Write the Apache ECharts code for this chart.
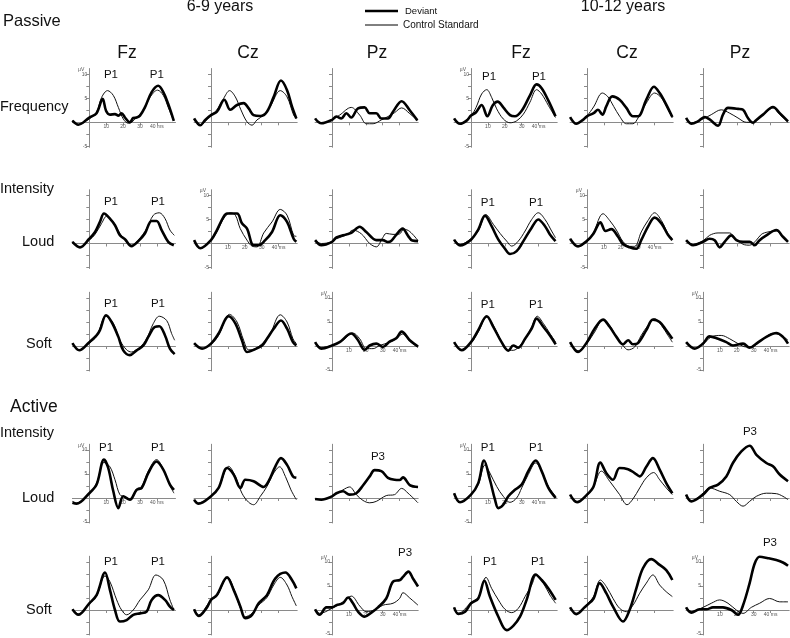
<!DOCTYPE html>
<html><head><meta charset="utf-8">
<script src="https://cdn.jsdelivr.net/npm/echarts@6/dist/echarts.min.js"></script>
<style>html,body{margin:0;padding:0;background:#fff}#c{width:790px;height:638px}</style>
</head><body><div id="c"></div><script>
// ---------- data: [time ms, amplitude µV] ----------
// Passive – Frequency
const pFreqFz69Dev=[[-100,0.35],[-65,-0.5],[0,1.0],[43,1.9],[79,4.9],[99,2.4],[122,1.6],[152,1.7],[172,1.4],[191,1.9],[211,1.0],[240,0],[260,0.9],[280,1.0],[300,1.4],[329,3.1],[369,6.3],[408,7.6],[438,6.3],[467,3.8],[500,0.3]];
const pFreqFz69Ctl=[[-100,0.35],[-65,-0.4],[0,0.7],[43,2.1],[73,5.2],[108,6.6],[142,5.6],[172,3.1],[201,0.7],[231,-0.2],[250,0],[280,1.0],[320,2.4],[359,5.2],[404,6.7],[438,5.6],[467,3.1],[500,0.3]];
const pFreqCz69Dev=[[-100,0.8],[-63,-0.6],[-34,0.5],[0,1.5],[35,2.2],[79,4.7],[114,2.6],[154,3.6],[193,4.0],[223,2.9],[252,1.5],[292,1.3],[331,2.2],[371,5.3],[414,8.7],[450,6.7],[479,3.3],[505,0.8]];
const pFreqCz69Ctl=[[-100,0.8],[-63,-0.5],[0,1.5],[35,2.6],[75,5.0],[110,6.6],[144,5.3],[177,2.6],[213,0.1],[243,-0.6],[272,0.5],[312,1.5],[351,3.3],[410,6.6],[450,5.3],[489,1.5],[505,0.8]];
const pFreqPz69Dev=[[-100,0.8],[-63,-0.2],[0,0.5],[26,1.2],[55,0.8],[85,1.9],[114,1.0],[154,2.9],[193,3.1],[223,1.9],[262,1.9],[292,0.8],[331,0.8],[361,2.2],[412,4.4],[460,2.5],[505,0.4]];
const pFreqPz69Ctl=[[-100,0.8],[-63,-0.1],[0,0.5],[45,1.5],[114,3.1],[164,1.5],[203,-0.3],[243,-0.3],[292,0.5],[331,1.2],[370,2.0],[412,3.0],[460,1.8],[505,0.4]];
const pFreqFz1012Dev=[[-100,0.8],[-65,-0.3],[-26,0.35],[0,1.4],[30,2.1],[63,3.6],[97,1.25],[128,3.5],[158,4.3],[191,3.1],[231,1.5],[260,1.25],[300,2.4],[349,5.6],[388,7.9],[418,7.1],[458,4.5],[500,1.25]];
const pFreqFz1012Ctl=[[-100,0.8],[-65,-0.3],[0,1.4],[30,3.1],[63,5.9],[93,6.8],[122,5.2],[152,2.8],[191,0.7],[231,-0.1],[270,0.3],[310,1.7],[349,4.2],[388,6.8],[418,5.9],[458,3.5],[500,1.0]];
const pFreqCz1012Dev=[[-100,1.1],[-63,-0.3],[-24,0.5],[0,1.25],[39,1.9],[65,2.6],[91,1.6],[114,3.3],[150,5.4],[193,4.7],[233,3.0],[272,1.25],[302,1.25],[351,4.7],[396,7.4],[430,6.1],[469,3.7],[505,1.1]];
const pFreqCz1012Ctl=[[-100,1.1],[-63,-0.3],[0,1.4],[39,3.2],[91,6.1],[124,5.3],[158,3.3],[193,1.25],[233,-0.3],[272,-0.3],[302,0.9],[351,4.0],[400,6.1],[440,5.1],[479,2.6],[505,0.9]];
const pFreqPz1012Dev=[[-100,0.9],[-69,-0.3],[-30,0.2],[10,1.1],[39,0.6],[89,-0.7],[118,1.6],[148,3.0],[207,2.8],[237,2.6],[266,0.9],[296,-0.1],[316,0.5],[355,1.6],[414,3.2],[454,1.9],[503,0.2]];
const pFreqPz1012Ctl=[[-100,0.9],[-69,-0.1],[0,0.7],[49,1.6],[108,2.6],[158,1.9],[207,0.9],[256,0],[296,0],[335,0.9],[375,2.1],[414,3.0],[454,1.6],[503,0]];
// Passive – Intensity Loud
const pLoudFz69Dev=[[-100,0.35],[-55,-0.8],[0,1.0],[34,2.4],[63,4.5],[87,6.25],[122,5.2],[152,3.8],[181,1.7],[211,0.9],[250,-0.55],[290,0.5],[329,2.1],[369,4.7],[398,4.7],[428,2.8],[467,0.35],[500,-0.35]];
const pLoudFz69Ctl=[[-100,0.35],[-55,-0.7],[0,0.7],[34,1.9],[73,4.2],[103,5.7],[142,4.5],[181,2.1],[221,0.35],[250,-0.35],[290,0.7],[339,3.1],[379,5.9],[414,6.4],[448,5.2],[477,2.8],[503,1.7]];
const pLoudCz69Dev=[[-100,0.7],[-63,-1.0],[0,0.7],[35,2.8],[75,5.6],[95,6.25],[154,6.25],[183,4.2],[213,3.1],[252,-0.35],[282,-0.35],[321,0.7],[361,2.4],[410,5.9],[450,4.5],[489,1.0],[505,0.35]];
const pLoudCz69Ctl=[[-100,0.7],[-63,-1.0],[0,0.7],[35,2.4],[75,5.2],[114,6.4],[144,5.9],[173,3.1],[213,0.7],[243,-0.55],[272,-0.7],[312,2.2],[361,4.5],[410,7.1],[450,5.9],[489,1.7],[505,1.5]];
const pLoudPz69Dev=[[-100,0.7],[-63,-0.35],[0,0.35],[26,1.25],[85,1.9],[114,2.2],[164,3.5],[203,2.4],[262,0.7],[301,0.7],[330,0.3],[350,0.5],[380,1.8],[418,3.1],[450,1.6],[475,0.6],[509,0.5]];
const pLoudPz69Ctl=[[-100,0.7],[-63,0],[0,0.35],[26,1.0],[85,1.75],[124,2.8],[174,2.0],[223,0],[262,-0.7],[300,1.2],[321,2.1],[361,1.9],[400,2.0],[425,3.0],[460,2.5],[509,0.6]];
const pLoudFz1012Dev=[[-100,0.8],[-65,-0.4],[0,0.8],[43,2.9],[83,5.8],[122,3.6],[162,0.8],[201,-1.1],[231,-2.2],[270,-1.6],[310,0.5],[359,3.3],[398,5.0],[438,3.6],[467,1.9],[500,0.5]];
const pLoudFz1012Ctl=[[-100,0.8],[-65,-0.2],[0,1.0],[43,2.6],[89,6.0],[132,4.0],[172,2.1],[211,0.5],[241,-0.55],[280,0.5],[320,2.6],[359,5.0],[398,6.4],[438,5.0],[477,2.6],[500,1.2]];
const pLoudCz1012Dev=[[-100,1.0],[-53,-0.6],[0,0.55],[39,2.1],[79,4.4],[110,2.6],[144,3.0],[183,1.45],[213,-0.1],[252,-0.8],[292,-1.1],[321,0.7],[361,3.5],[400,5.4],[440,4.2],[479,1.8],[505,0.7]];
const pLoudCz1012Ctl=[[-100,1.0],[-53,-0.6],[0,0.4],[39,2.4],[95,6.2],[134,4.8],[174,2.8],[213,0.4],[252,-0.6],[282,-0.6],[321,2.4],[361,4.8],[400,6.4],[440,4.8],[479,2.1],[505,1.1]];
const pLoudPz1012Dev=[[-100,0.7],[-59,-0.35],[0,0.35],[39,1.0],[69,0.7],[99,-0.8],[128,0.35],[168,1.7],[197,0.7],[237,0.35],[276,0.35],[306,-0.35],[335,0.7],[375,1.7],[434,2.8],[473,1.4],[503,0.35]];
const pLoudPz1012Ctl=[[-100,0.7],[-59,-0.2],[0,0.55],[39,1.7],[89,2.2],[158,2.2],[187,1.25],[237,-0.15],[276,-0.35],[316,0.7],[345,1.9],[384,2.4],[434,2.6],[473,1.25],[503,0.35]];
// Passive – Intensity Soft
const pSoftFz69Dev=[[-100,0.6],[-59,-0.9],[0,0.8],[43,2.2],[63,3.3],[99,6.4],[132,5.0],[172,1.9],[201,-0.9],[240,-1.9],[280,-0.9],[320,0.1],[349,1.9],[389,4.0],[414,4.1],[448,2.2],[477,-0.55],[505,-1.7]];
const pSoftFz69Ctl=[[-100,0.6],[-59,-0.9],[0,0.6],[43,2.0],[99,6.2],[142,4.7],[181,1.2],[221,-0.8],[250,-1.25],[300,-0.2],[339,1.5],[379,4.7],[414,6.2],[458,5.3],[487,2.6],[505,1.2]];
const pSoftCz69Dev=[[-100,0.6],[-53,-0.55],[0,0.5],[45,2.6],[105,6.2],[144,4.7],[183,1.2],[213,-1.25],[252,-0.8],[302,0.1],[331,1.5],[371,3.6],[414,5.3],[450,3.6],[485,0.8],[505,0.1]];
const pSoftCz69Ctl=[[-100,0.6],[-53,-0.5],[0,0.35],[45,2.2],[110,6.6],[154,5.0],[193,1.2],[223,-0.8],[262,-0.55],[312,0.8],[351,2.6],[410,6.5],[450,5.0],[485,1.5],[505,0.5]];
const pSoftPz69Dev=[[-100,0.8],[-63,-0.55],[0,0.1],[45,0.8],[114,2.6],[154,1.2],[193,-0.8],[223,0.1],[262,0.5],[301,-0.2],[341,0.9],[380,1.6],[412,3.0],[460,1.2],[509,-0.1]];
const pSoftPz69Ctl=[[-100,0.8],[-63,-0.3],[0,0.1],[65,1.2],[124,2.7],[164,1.5],[203,-0.55],[243,-0.55],[282,0.1],[341,0.8],[380,1.5],[418,2.5],[460,1.0],[509,-0.3]];
const pSoftFz1012Dev=[[-100,0.8],[-55,-0.9],[0,0.8],[43,3.3],[93,6.2],[132,4.0],[181,0.8],[221,-1.0],[250,0.1],[280,-0.35],[320,1.5],[359,3.6],[388,5.7],[428,4.0],[467,2.2],[501,0.35]];
const pSoftFz1012Ctl=[[-100,0.8],[-55,-0.7],[0,0.6],[43,2.9],[93,6.0],[132,4.3],[172,1.5],[211,-0.8],[250,-0.9],[290,0.1],[329,2.0],[359,4.0],[392,6.2],[428,4.7],[467,2.6],[501,0.8]];
const pSoftCz1012Dev=[[-100,0.8],[-53,-1.25],[0,0.8],[45,3.6],[95,5.5],[134,4.0],[174,1.9],[213,0.35],[243,1.2],[272,0.35],[302,0.6],[351,3.3],[390,5.5],[430,5.0],[469,3.3],[505,1.5]];
const pSoftCz1012Ctl=[[-100,0.8],[-53,-1.0],[0,0.6],[45,2.9],[95,5.5],[134,4.3],[174,1.9],[213,0.1],[243,-0.8],[282,-0.2],[321,2.2],[361,4.3],[400,5.7],[440,4.3],[479,2.2],[505,0.8]];
const pSoftPz1012Dev=[[-100,0.8],[-49,-0.55],[0,0.5],[39,2.0],[89,1.5],[138,0.8],[177,0.1],[237,0.5],[276,-0.35],[316,0.5],[375,1.9],[434,2.7],[473,1.9],[503,0.5]];
const pSoftPz1012Ctl=[[-100,0.8],[-49,-0.5],[0,0.35],[49,1.9],[108,2.2],[158,1.5],[207,0.5],[256,-0.2],[306,0.1],[355,1.5],[414,2.6],[463,2.2],[503,1.2]];
// Active – Intensity Loud
const aLoudFz69Dev=[[-100,-1.0],[-75,-1.2],[0,1.0],[43,2.8],[87,8.0],[112,6.25],[142,1.4],[172,-2.1],[201,0.35],[240,-0.35],[280,1.7],[310,2.1],[349,5.2],[398,7.6],[438,5.9],[477,2.8],[501,1.7]];
const aLoudFz69Ctl=[[-100,-0.7],[-75,-1.0],[0,1.0],[43,3.1],[87,7.4],[122,6.5],[152,3.8],[181,0.7],[211,0.2],[240,-0.2],[280,1.9],[310,2.4],[349,5.6],[398,8.0],[438,6.0],[477,2.6],[501,1.0]];
const aLoudCz69Dev=[[-100,-0.35],[-73,-1.2],[0,0.35],[45,2.1],[95,6.25],[134,4.9],[174,2.1],[203,3.8],[252,3.5],[312,2.3],[341,3.5],[381,6.6],[414,8.3],[450,6.9],[485,4.5],[505,4.2]];
const aLoudCz69Ctl=[[-100,-0.35],[-73,-1.0],[0,0.35],[45,2.1],[105,6.6],[144,4.5],[183,1.0],[223,-0.9],[252,-1.4],[292,0.35],[331,2.4],[371,5.2],[406,6.5],[440,4.5],[473,1.7],[505,-0.35]];
const aLoudPz69Dev=[[-100,-0.2],[-63,-0.35],[0,0.35],[26,1.0],[65,1.4],[104,0.7],[144,1.0],[183,2.6],[223,4.5],[252,5.8],[292,5.6],[331,4.2],[370,3.8],[400,3.75],[420,4.3],[460,2.7],[509,2.3]];
const aLoudPz69Ctl=[[-100,-0.2],[-63,-0.35],[0,0.35],[65,1.7],[104,2.3],[144,0.7],[183,-0.5],[223,-1.0],[262,-0.7],[321,0.5],[370,0.7],[412,2.0],[450,1.0],[509,-1.0]];
const aLoudFz1012Dev=[[-100,1.0],[-65,-0.9],[0,0.7],[43,3.1],[77,7.8],[112,3.8],[142,-0.35],[162,-2.1],[191,-1.4],[221,0.35],[260,1.7],[300,2.8],[339,5.6],[383,7.8],[418,5.6],[458,2.1],[501,0]];
const aLoudFz1012Ctl=[[-100,1.0],[-65,-0.9],[0,0.7],[43,2.8],[83,6.9],[112,5.2],[152,2.4],[191,0.35],[231,-0.9],[270,0],[300,2.1],[339,4.9],[383,7.3],[418,5.6],[458,2.4],[501,0.35]];
const aLoudCz1012Dev=[[-100,0.7],[-59,-0.9],[0,0.7],[39,2.4],[79,7.4],[114,5.2],[154,3.8],[193,6.25],[243,6.0],[282,5.2],[312,4.5],[351,6.5],[390,8.3],[430,5.9],[469,3.1],[505,1.0]];
const aLoudCz1012Ctl=[[-100,0.7],[-59,-0.7],[0,0.5],[39,2.4],[85,5.6],[134,3.5],[193,0.7],[237,-1.4],[272,-0.2],[312,2.1],[351,4.2],[394,5.3],[430,3.8],[469,2.1],[505,0.7]];
const aLoudPz1012Dev=[[-100,0.7],[-69,-0.7],[0,0.7],[39,2.1],[89,2.8],[138,4.5],[177,7.3],[227,9.7],[276,10.9],[316,9.0],[375,7.3],[414,6.6],[454,4.9],[503,3.5]];
const aLoudPz1012Ctl=[[-100,0.7],[-69,-0.7],[0,1.0],[39,2.1],[99,1.4],[158,0.7],[197,-0.7],[237,-1.7],[276,-0.7],[316,0.35],[375,1.0],[434,0.9],[473,0.35],[503,-0.35]];
// Active – Intensity Soft
const aSoftFz69Dev=[[-100,0.15],[-65,-1.0],[0,1.4],[43,3.1],[93,7.8],[122,4.2],[152,0],[181,-2.4],[221,-2.1],[260,-1.0],[300,-0.7],[339,-0.35],[369,2.1],[408,3.1],[448,2.1],[477,0.7],[501,0]];
const aSoftFz69Ctl=[[-100,0.15],[-65,-0.8],[0,1.25],[43,2.9],[93,7.1],[122,5.9],[162,2.1],[191,0],[221,-1.0],[260,0],[300,2.1],[349,4.2],[394,7.3],[438,6.25],[477,2.1],[501,0]];
const aSoftCz69Dev=[[-100,0.15],[-73,-1.25],[-24,0.55],[0,2.1],[35,3.1],[95,6.8],[134,4.2],[174,0.7],[203,-1.7],[243,-1.0],[282,1.4],[331,3.1],[381,6.6],[440,7.8],[479,6.25],[505,4.5]];
const aSoftCz69Ctl=[[-100,0.15],[-73,-1.0],[0,2.1],[35,2.9],[99,6.8],[134,4.5],[174,0.35],[203,-1.4],[243,-0.7],[282,1.0],[331,2.6],[371,5.2],[410,6.8],[450,5.2],[479,2.8],[505,0.85]];
const aSoftPz69Dev=[[-100,0.15],[-73,-1.0],[-33,0.55],[0,0.55],[26,1.0],[65,1.4],[95,2.6],[124,1.4],[154,-0.35],[193,-1.4],[233,-0.55],[272,0.55],[321,2.4],[361,5.9],[402,6.25],[420,6.9],[452,8.0],[480,6.5],[509,4.9]];
const aSoftPz69Ctl=[[-100,0.15],[-73,-0.7],[0,0.35],[65,1.7],[114,2.9],[164,0.85],[203,-0.35],[252,0],[301,1.0],[361,1.4],[400,2.4],[420,3.6],[460,2.5],[509,1.0]];
const aSoftFz1012Dev=[[-100,0.55],[-75,-0.8],[-35,-0.35],[0,1.4],[43,2.4],[79,6.1],[112,2.8],[162,-1.4],[211,-4.2],[250,-3.3],[290,-1.4],[329,2.1],[383,7.4],[418,6.25],[458,4.5],[501,2.1]];
const aSoftFz1012Ctl=[[-100,0.55],[-75,-0.7],[0,1.5],[43,2.6],[89,6.8],[122,4.5],[162,2.1],[201,0.15],[241,-0.55],[280,0.35],[320,2.8],[359,5.2],[388,7.3],[428,5.6],[467,3.1],[501,1.4]];
const aSoftCz1012Dev=[[-100,0.55],[-63,-0.85],[-14,0.55],[0,1.0],[39,2.4],[75,5.6],[114,3.5],[154,0.7],[213,-2.4],[252,0],[292,4.5],[331,8.7],[380,10.6],[430,9.4],[469,8.3],[505,6.25]];
const aSoftCz1012Ctl=[[-100,0.55],[-63,-0.7],[0,1.25],[39,2.8],[79,6.25],[114,4.9],[154,2.4],[193,0.35],[233,-0.35],[272,1.0],[312,3.5],[351,5.6],[390,7.3],[430,5.2],[469,3.8],[505,2.8]];
const aSoftPz1012Dev=[[-100,0.55],[-69,-0.55],[-20,0.15],[20,0.15],[59,0.55],[118,0.55],[168,0],[207,-1.0],[237,1.0],[276,5.6],[306,9.7],[335,11.1],[384,10.8],[434,10.4],[473,9.9],[503,9.2]];
const aSoftPz1012Ctl=[[-100,0.55],[-69,-0.3],[0,0.55],[49,1.4],[99,2.1],[148,1.4],[197,0],[237,-0.7],[286,0.55],[335,1.4],[394,2.4],[454,1.7],[503,1.7]];

// panel table: rows x columns
const devRows=[
 [pFreqFz69Dev,pFreqCz69Dev,pFreqPz69Dev,pFreqFz1012Dev,pFreqCz1012Dev,pFreqPz1012Dev],
 [pLoudFz69Dev,pLoudCz69Dev,pLoudPz69Dev,pLoudFz1012Dev,pLoudCz1012Dev,pLoudPz1012Dev],
 [pSoftFz69Dev,pSoftCz69Dev,pSoftPz69Dev,pSoftFz1012Dev,pSoftCz1012Dev,pSoftPz1012Dev],
 [aLoudFz69Dev,aLoudCz69Dev,aLoudPz69Dev,aLoudFz1012Dev,aLoudCz1012Dev,aLoudPz1012Dev],
 [aSoftFz69Dev,aSoftCz69Dev,aSoftPz69Dev,aSoftFz1012Dev,aSoftCz1012Dev,aSoftPz1012Dev]];
const ctlRows=[
 [pFreqFz69Ctl,pFreqCz69Ctl,pFreqPz69Ctl,pFreqFz1012Ctl,pFreqCz1012Ctl,pFreqPz1012Ctl],
 [pLoudFz69Ctl,pLoudCz69Ctl,pLoudPz69Ctl,pLoudFz1012Ctl,pLoudCz1012Ctl,pLoudPz1012Ctl],
 [pSoftFz69Ctl,pSoftCz69Ctl,pSoftPz69Ctl,pSoftFz1012Ctl,pSoftCz1012Ctl,pSoftPz1012Ctl],
 [aLoudFz69Ctl,aLoudCz69Ctl,aLoudPz69Ctl,aLoudFz1012Ctl,aLoudCz1012Ctl,aLoudPz1012Ctl],
 [aSoftFz69Ctl,aSoftCz69Ctl,aSoftPz69Ctl,aSoftFz1012Ctl,aSoftCz1012Ctl,aSoftPz1012Ctl]];

// panels that carry axis scale labels [row, col]
const labeledPanels=[[0,0],[0,3],[1,1],[1,4],[2,2],[2,5],[3,0],[3,3],[4,2],[4,5]];
const xTickValues=[100,200,300,400];
const xTickText=['10','20','30','40 ms'];
const yTickValues=[-5,-2.5,0,2.5,5,7.5,10];
const yLabelValues=[-5,5,10];
const yLabelText=['-5','5','10'];
// component labels: [row, col, text, ms, µV]
const peakLabels=[
 [0,0,'P1',128,9.8],[0,0,'P1',400,9.8],[0,3,'P1',107,9.4],[0,3,'P1',402,9.4],
 [1,0,'P1',128,8.75],[1,0,'P1',406,8.75],[1,3,'P1',100,8.5],[1,3,'P1',385,8.5],
 [2,0,'P1',128,8.75],[2,0,'P1',406,8.75],[2,3,'P1',100,8.5],[2,3,'P1',385,8.5],
 [3,0,'P1',99,10.4],[3,0,'P1',406,10.4],[3,2,'P3',272,8.5],[3,3,'P1',100,10.4],[3,3,'P1',385,10.4],[3,5,'P3',278,13.75],
 [4,0,'P1',128,10],[4,0,'P1',406,10],[4,2,'P3',432,11.9],[4,3,'P1',112,10],[4,3,'P1',396,10],[4,5,'P3',396,14]];
const groupTitles=['6-9 years','10-12 years'];
const electrodes=['Fz','Cz','Pz','Fz','Cz','Pz'];
const legendNames=['Deviant','Control Standard'];

// ---------- layout ----------
const colAxisX=[89.3,211,332,471,587,703];
const rowZeroY=[122.3,243.5,346,498,610];
const PX_MS=0.169, PX_UV=4.8;
const X_MIN=-100, X_MAX=510, Y_MIN=-5.2, Y_MAX=11.2;
const FONT='"Liberation Sans", Arial, sans-serif';
const AX='#8a8a8a';

const grids=[],xAxes=[],yAxes=[],series=[];
function isLabeled(r,c){return labeledPanels.some(p=>p[0]===r&&p[1]===c);}
for(let r=0;r<5;r++)for(let c=0;c<6;c++){
  const i=grids.length, lab=isLabeled(r,c);
  grids.push({left:colAxisX[c]-(0-X_MIN)*PX_MS, top:rowZeroY[r]-Y_MAX*PX_UV,
    width:(X_MAX-X_MIN)*PX_MS, height:(Y_MAX-Y_MIN)*PX_UV, containLabel:false});
  // axes drawn through the zero point: offset them inwards from the grid edges
  xAxes.push({gridIndex:i,type:'value',min:X_MIN,max:X_MAX,position:'bottom',offset:-(0-Y_MIN)*PX_UV,
    axisLine:{onZero:false,lineStyle:{color:AX,width:1}},
    axisTick:{show:true,customValues:xTickValues,length:3,lineStyle:{color:AX}},
    axisLabel:{show:lab,customValues:xTickValues,fontSize:5,margin:2,color:'#555',fontFamily:FONT,
      formatter:v=>xTickText[xTickValues.indexOf(v)]},
    splitLine:{show:false}});
  yAxes.push({gridIndex:i,type:'value',min:Y_MIN,max:Y_MAX,position:'left',offset:-(0-X_MIN)*PX_MS,
    axisLine:{onZero:false,lineStyle:{color:AX,width:1}},
    axisTick:{show:true,customValues:yTickValues,length:3,lineStyle:{color:AX}},
    axisLabel:{show:lab,customValues:yLabelValues,fontSize:5,margin:2,color:'#555',fontFamily:FONT,
      formatter:v=>yLabelText[yLabelValues.indexOf(v)]},
    splitLine:{show:false}});
  series.push({type:'line',name:legendNames[1],xAxisIndex:i,yAxisIndex:i,data:ctlRows[r][c],
    smooth:0.35,showSymbol:false,silent:true,clip:false,lineStyle:{color:'#111',width:1}});
  series.push({type:'line',name:legendNames[0],xAxisIndex:i,yAxisIndex:i,data:devRows[r][c],
    smooth:0.35,showSymbol:false,silent:true,clip:false,lineStyle:{color:'#000',width:2.6}});
}

const chart=echarts.init(document.getElementById('c'),null,{renderer:'canvas'});
chart.setOption({animation:false,backgroundColor:'#fff',grid:grids,xAxis:xAxes,yAxis:yAxes,series:series});

// ---------- texts ----------
const g=[];
function txt(x,y,s,size,align,fill){g.push({type:'text',x:x,y:y,silent:true,
  style:{text:s,fontSize:size,fontFamily:FONT,fill:fill||'#111',textAlign:align||'left',textVerticalAlign:'middle'}});}
txt(3,21,'Passive',16.5);
txt(220,7,groupTitles[0],16,'center');
txt(623,7,groupTitles[1],16,'center');
// legend
g.push({type:'line',shape:{x1:365,y1:11,x2:398,y2:11},style:{stroke:'#000',lineWidth:2.6},silent:true});
g.push({type:'line',shape:{x1:365,y1:25,x2:398,y2:25},style:{stroke:'#000',lineWidth:1},silent:true});
txt(405,11.5,legendNames[0],9.5);
txt(403,25,legendNames[1],10);
const headerX=[127,248,377,521,627,740];
electrodes.forEach((e,k)=>txt(headerX[k],53,e,17.5,'center'));
txt(0,106.6,'Frequency',14.5);
txt(0,189,'Intensity',14.5);
txt(22,242.3,'Loud',14.5);
txt(26,344,'Soft',14.5);
txt(10,407.2,'Active',17.5);
txt(0,433.3,'Intensity',14.5);
txt(22,498.3,'Loud',14.5);
txt(26,610,'Soft',14.5);
// µV unit on labelled panels
labeledPanels.forEach(([r,c])=>{
  const p=chart.convertToPixel({gridIndex:r*6+c},[0,11]);
  txt(p[0]-5,p[1],'µV',5,'right','#555');
});
// P1 / P3 labels
peakLabels.forEach(([r,c,s,x,y])=>{
  const p=chart.convertToPixel({gridIndex:r*6+c},[x,y]);
  txt(p[0],p[1],s,11.5,'center');
});
chart.setOption({graphic:g});
</script></body></html>
